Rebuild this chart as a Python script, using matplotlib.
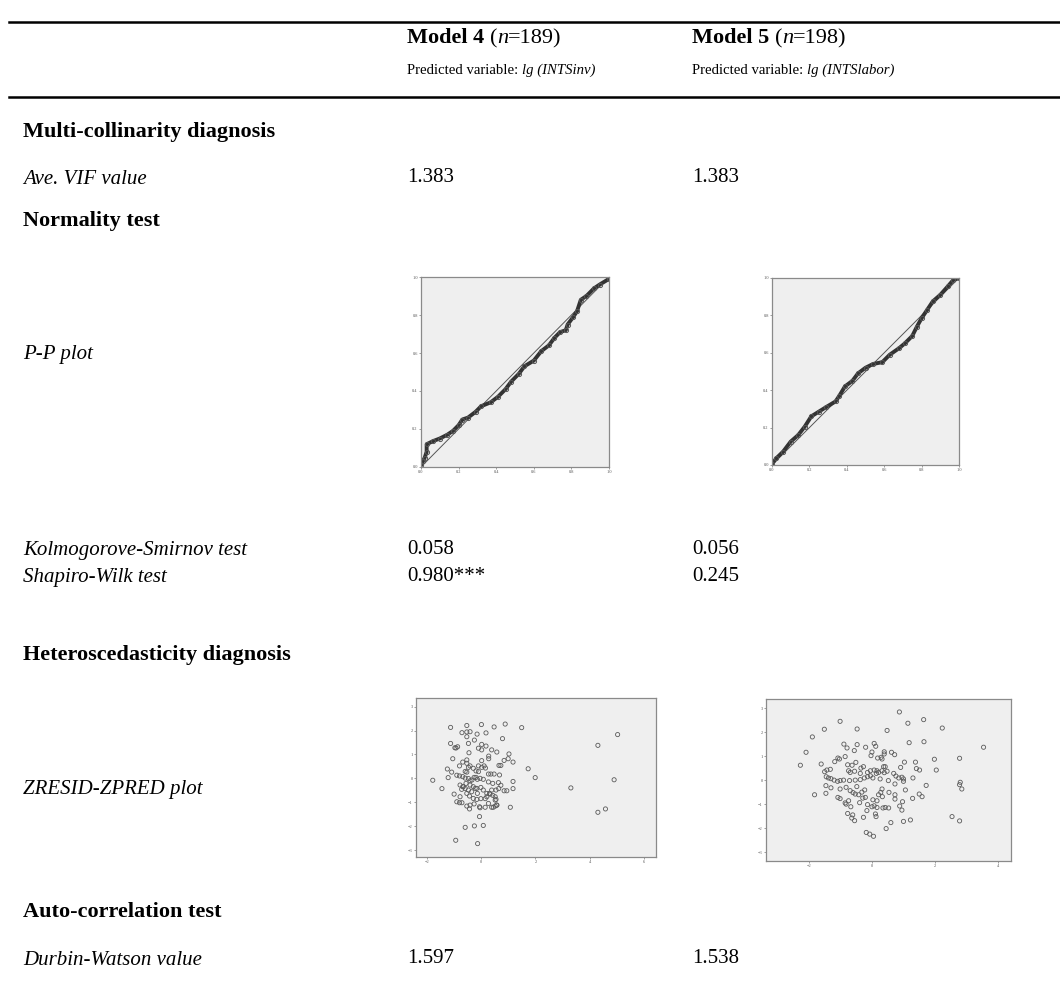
import matplotlib
matplotlib.use("Agg")
import matplotlib.pyplot as plt

# Ukuran gambar dalam piksel
W, H = 1060, 983

# Kolom model
model_names = ["Model 4", "Model 5"]
model_n = ["189", "198"]
predicted_vars = ["lg (INTSinv)", "lg (INTSlabor)"]

# Nilai tabel
vif_values = ["1.383", "1.383"]
ks_values = ["0.058", "0.056"]
sw_values = ["0.980***", "0.245"]
dw_values = ["1.597", "1.538"]

pp4_exp = [0.00, 0.01, 0.02, 0.03, 0.03, 0.066, 0.10, 0.14, 0.17, 0.20, 0.22, 0.25,
           0.29, 0.32, 0.37, 0.41, 0.45, 0.48, 0.52, 0.55, 0.60, 0.64, 0.68, 0.71,
           0.74, 0.77, 0.78, 0.81, 0.83, 0.85, 0.88, 0.92, 0.95, 1.00]
pp4_obs = [0.01, 0.03, 0.05, 0.08, 0.12, 0.137, 0.15, 0.17, 0.19, 0.22, 0.25, 0.26,
           0.29, 0.32, 0.34, 0.37, 0.41, 0.45, 0.49, 0.53, 0.56, 0.61, 0.64, 0.68,
           0.71, 0.72, 0.75, 0.79, 0.82, 0.88, 0.90, 0.94, 0.96, 0.99]

pp5_exp = [0.00, 0.023, 0.059, 0.10, 0.14, 0.175, 0.21, 0.25, 0.29, 0.34, 0.36, 0.39,
           0.43, 0.46, 0.50, 0.54, 0.59, 0.63, 0.68, 0.71, 0.75, 0.775, 0.80, 0.83,
           0.86, 0.90, 0.94, 0.97, 1.00]
pp5_obs = [0.005, 0.036, 0.071, 0.125, 0.16, 0.205, 0.26, 0.285, 0.31, 0.34, 0.37, 0.42,
           0.45, 0.49, 0.52, 0.54, 0.55, 0.59, 0.625, 0.65, 0.69, 0.74, 0.785, 0.83,
           0.875, 0.91, 0.955, 0.99, 1.00]

# ZRESID-ZPRED Model 4
zpred4 = [-1.14, -0.54, 0.00, 0.47, 0.88, 1.49, -0.72, -0.54, -0.42, -0.54, -0.16, 0.17,
          -0.26, 0.78, -1.14, -0.94, -0.98, -0.88, -0.48, 0.01, 0.17, -0.11, 0.01, 0.38,
          0.57, -0.46, 0.27, 0.27, 1.02, 0.99, 0.84, 1.17, -1.06, -0.69, -0.54, -0.54,
          0.01, -0.42, -0.30, -0.48, -0.11, 0.01, 0.10, 0.15, 0.65, 0.72, -1.26, -0.81,
          -1.10, -0.91, -0.81, -0.60, -0.54, -0.20, -0.11, 0.26, 0.35, 0.47, 0.67, 1.73,
          -1.80, -1.23, 1.99, -0.69, -0.60, -0.48, -0.35, -0.20, -0.15, -0.05, 0.07, 0.26,
          0.42, 0.63, 0.72, 1.17, -0.79, -0.69, -0.60, -0.73, -0.42, -0.30, -0.17, -0.02,
          0.07, -1.46, 0.84, 0.94, 1.17, 0.54, 0.64, 3.31, 4.91, 0.20, 0.32, 0.42,
          0.51, 0.54, -1.01, -0.79, -0.54, -0.44, -0.30, -0.17, -0.02, 0.14, -0.91, -0.81,
          -0.72, -0.54, -0.42, -0.27, -0.07, -0.05, 0.14, 0.38, 0.51, 0.57, -0.44, 1.07,
          4.31, 4.59, -0.07, -0.60, -0.26, 0.07, -0.95, -0.14, 4.31, 5.04, -0.48, -0.36,
          -0.23, -0.15, -0.67, -0.57, -0.42, -0.27, 0.20, 0.30, 0.38, 0.51, 0.57, 0.44,
          0.26]
zresid4 = [2.13, 2.21, 2.25, 2.15, 2.27, 2.12, 1.91, 1.94, 1.95, 1.74, 1.85, 1.90,
           1.60, 1.66, 1.46, 1.27, 1.28, 1.32, 1.46, 1.42, 1.35, 1.26, 1.19, 1.19,
           1.10, 1.07, 0.93, 0.82, 1.02, 0.82, 0.75, 0.68, 0.82, 0.68, 0.77, 0.63,
           0.74, 0.52, 0.42, 0.46, 0.52, 0.46, 0.52, 0.43, 0.54, 0.54, 0.39, 0.52,
           0.26, 0.13, 0.10, 0.29, 0.26, 0.31, 0.28, 0.18, 0.18, 0.18, 0.14, 0.40,
           -0.08, 0.03, 0.03, 0.07, 0.01, -0.01, -0.07, 0.04, -0.04, 0.00, -0.04, -0.15,
           -0.21, -0.18, -0.29, -0.13, -0.28, -0.35, -0.42, -0.46, -0.28, -0.35, -0.42, -0.38,
           -0.49, -0.43, -0.52, -0.52, -0.43, -0.49, -0.43, -0.40, -0.06, -0.63, -0.66, -0.71,
           -0.77, -0.88, -0.66, -0.77, -0.63, -0.74, -0.84, -0.88, -0.85, -0.85, -0.98, -1.02,
           -1.02, -1.16, -1.12, -1.07, -1.19, -1.23, -1.21, -1.21, -1.16, -1.12, -1.28, -1.21,
           -1.42, -1.28, -1.60, -2.05, -1.99, -1.97, -2.59, -2.73, 1.38, 1.83, -0.49, -0.56,
           -0.42, -0.63, -0.35, -0.21, -0.10, 0.04, -0.77, -0.63, -0.49, -0.91, -1.12, -1.21,
           -1.05]

# ZRESID-ZPRED Model 5
zpred5 = [0.86, -1.02, 1.63, 1.13, -1.52, -0.48, 0.47, 2.22, -1.90, -2.10, -2.28,
          -0.90, -0.80, -0.48, -0.57, -0.21, 0.06, 0.11, 1.17, 1.64, 3.53,
          -0.01, -0.04, 0.38, 0.38, 0.28, 0.61, 0.71, 0.17, 0.31, -1.09, -1.04,
          -1.19, -1.62, -0.86, -0.52, -0.78, -0.64, -0.36, -0.28, 1.02, 1.37, 1.97, 2.77,
          0.36, 0.41, 0.90, 1.40, 1.50, 2.03, -1.51, -1.44, -1.33,
          -0.75, -0.70, -0.56, -0.38, -0.15, -0.06, 0.06, 0.15, 0.20, 0.13,
          0.31, 0.38, 0.47, 0.68, 0.75, 0.84, 0.94, 0.99, 1.29,
          -1.46, -1.39, -1.31, -1.21, -1.10, -1.02, -0.91,
          -0.72, -0.54, -0.38, -0.25, -0.15, -0.06, 0.02,
          0.25, 0.51, 0.72, 0.99, 2.79, 2.77, 2.84, 1.71, 1.05,
          -1.47, -1.31, -1.02, -0.83, -1.83, -1.47,
          -0.70, -0.61, -0.54, -0.43, -0.33, -0.24, -0.49,
          0.31, 0.27, 0.20, 0.32, 0.53, 0.72, 0.72, 1.49, 1.58, 1.28,
          -1.09, -1.02, -0.86, -0.83, -0.22, -0.30, -0.40, 0.02, 0.15, 0.96, -0.75,
          -0.15, -0.01, 0.06, 0.15, 0.34, 0.41, 0.52, 0.87, 0.94, -0.68, -0.17,
          0.10, 0.12, -0.78, -0.62, -0.65, -0.56, -0.28, 0.59, 0.99, 1.21, 2.53, 2.77,
          0.44, -0.19, -0.08, 0.04]
zresid5 = [2.85, 2.46, 2.53, 2.38, 2.13, 2.14, 2.08, 2.18, 1.81, 1.17, 0.63,
           1.51, 1.35, 1.49, 1.24, 1.38, 1.54, 1.42, 1.57, 1.61, 1.38,
           1.18, 1.03, 1.19, 1.10, 0.96, 1.17, 1.07, 0.93, 0.89, 0.93, 0.89,
           0.78, 0.68, 0.99, 0.75, 0.65, 0.63, 0.51, 0.57, 0.76, 0.76, 0.88, 0.92,
           0.57, 0.57, 0.54, 0.49, 0.43, 0.43, 0.36, 0.43, 0.46,
           0.40, 0.33, 0.38, 0.29, 0.33, 0.40, 0.43, 0.40, 0.33, 0.29,
           0.40, 0.32, 0.38, 0.29, 0.18, 0.10, 0.13, 0.06, 0.10,
           0.15, 0.10, 0.07, 0.01, -0.04, -0.01, 0.01,
           -0.01, 0.01, 0.03, 0.10, 0.15, 0.19, 0.10,
           0.06, -0.01, -0.15, -0.04, -0.08, -0.18, -0.36, -0.21, -0.40,
           -0.22, -0.31, -0.36, -0.29, -0.60, -0.54,
           -0.43, -0.51, -0.57, -0.60, -0.49, -0.40, -0.26,
           -0.36, -0.50, -0.60, -0.68, -0.50, -0.60, -0.78, -0.57, -0.68, -0.75,
           -0.71, -0.76, -0.94, -0.99, -0.71, -0.74, -0.93, -0.81, -0.85, -0.89, -0.85,
           -1.01, -1.10, -1.06, -1.13, -1.15, -1.13, -1.15, -1.07, -1.24, -1.10, -1.26,
           -1.40, -1.51, -1.38, -1.44, -1.57, -1.68, -1.54, -1.76, -1.71, -1.65, -1.51, -1.69,
           -2.01, -2.17, -2.24, -2.33]

plt.rcParams['font.family'] = ['Liberation Serif', 'DejaVu Serif']

fig = plt.figure(figsize=(W / 100, H / 100), dpi=100)
renderer = fig.canvas.get_renderer()


def fx(x):
    return x / W


def fy(y):
    return 1 - y / H


# Menulis teks dengan beberapa gaya berurutan dalam satu baris
def put(x, y, parts, size):
    cx = x
    for s, style, weight in parts:
        t = fig.text(fx(cx), fy(y), s, fontsize=size, fontstyle=style,
                     fontweight=weight, va='baseline', ha='left')
        cx += t.get_window_extent(renderer).width


# Garis tabel
for yy in [22, 97]:
    fig.add_artist(plt.Line2D([fx(9), fx(1060)], [fy(yy), fy(yy)], color='black', lw=1.8))

col_x = [407, 692]

# Header
for i in range(2):
    put(col_x[i], 43, [(model_names[i] + " ", 'normal', 'bold'), ("(", 'normal', 'normal'),
                       ("n", 'italic', 'normal'), ("=" + model_n[i] + ")", 'normal', 'normal')], 16)
    put(col_x[i], 74, [("Predicted variable: ", 'normal', 'normal'),
                       (predicted_vars[i], 'italic', 'normal')], 10.6)

# Label baris
lab_x = 23
put(lab_x, 137, [("Multi-collinarity diagnosis", 'normal', 'bold')], 16)
put(lab_x, 184, [("Ave. VIF value", 'italic', 'normal')], 15)
put(lab_x, 226, [("Normality test", 'normal', 'bold')], 16)
put(lab_x, 359, [("P-P plot", 'italic', 'normal')], 15)
put(lab_x, 555, [("Kolmogorove-Smirnov test", 'italic', 'normal')], 15)
put(lab_x, 582, [("Shapiro-Wilk test", 'italic', 'normal')], 15)
put(lab_x, 660, [("Heteroscedasticity diagnosis", 'normal', 'bold')], 16)
put(lab_x, 794, [("ZRESID-ZPRED plot", 'italic', 'normal')], 15)
put(lab_x, 917, [("Auto-correlation test", 'normal', 'bold')], 16)
put(lab_x, 965, [("Durbin-Watson value", 'italic', 'normal')], 15)

# Nilai
for i in range(2):
    put(col_x[i], 182, [(vif_values[i], 'normal', 'normal')], 15)
    put(col_x[i], 554, [(ks_values[i], 'normal', 'normal')], 15)
    put(col_x[i], 581, [(sw_values[i], 'normal', 'normal')], 15)
    put(col_x[i], 963, [(dw_values[i], 'normal', 'normal')], 15)


def mini_axes(left, top, right, bottom):
    ax = fig.add_axes([fx(left), fy(bottom), (right - left) / W, (bottom - top) / H])
    ax.set_facecolor('#efefef')
    for sp in ax.spines.values():
        sp.set_color('#8a8a8a')
        sp.set_linewidth(0.9)
    ax.tick_params(labelsize=3.2, length=1.5, width=0.5, color='#777', labelcolor='#555', pad=0.8)
    return ax


# P-P plots
pp_boxes = [(421, 277, 609, 467), (772, 278, 959, 465)]
pp_data = [(pp4_exp, pp4_obs), (pp5_exp, pp5_obs)]
for box, (ex, ob) in zip(pp_boxes, pp_data):
    ax = mini_axes(*box)
    ax.plot([0, 1], [0, 1], color='#555', lw=0.7)
    ax.plot(ex, ob, color='#333333', lw=2.8, marker='o', ms=3.0,
            mfc='none', mec='#555', mew=0.7)
    ax.set_xlim(0, 1)
    ax.set_ylim(0, 1)
    ticks = [0.0, 0.2, 0.4, 0.6, 0.8, 1.0]
    ax.set_xticks(ticks)
    ax.set_yticks(ticks)
    ax.set_xticklabels([f"{t:.1f}" for t in ticks])
    ax.set_yticklabels([f"{t:.1f}" for t in ticks])

# Scatter plots
sc_boxes = [(416, 698, 656, 857), (766, 699, 1011, 861)]
sc_data = [(zpred4, zresid4), (zpred5, zresid5)]
sc_xlim = [(-2.42, 6.46), (-3.37, 4.4)]
sc_ylim = [(-3.29, 3.36), (-3.36, 3.39)]
sc_xticks = [[-2, 0, 2, 4, 6], [-2, 0, 2, 4]]
for box, (zx, zy), xl, yl, xt in zip(sc_boxes, sc_data, sc_xlim, sc_ylim, sc_xticks):
    ax = mini_axes(*box)
    ax.scatter(zx, zy, s=9, facecolors='none', edgecolors='#5a5a5a', linewidths=0.6)
    ax.set_xlim(*xl)
    ax.set_ylim(*yl)
    ax.set_xticks(xt)
    ax.set_yticks([-3, -2, -1, 0, 1, 2, 3])

fig.savefig("out.png", dpi=100, facecolor='white')
